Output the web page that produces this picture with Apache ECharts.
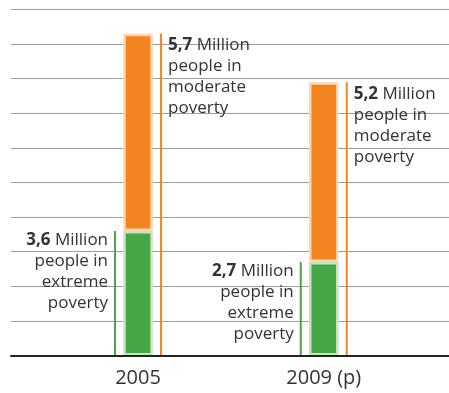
<!DOCTYPE html>
<html>
<head>
<meta charset="utf-8">
<script src="https://cdn.jsdelivr.net/npm/echarts@6/dist/echarts.min.js"></script>
<style>
  html, body { margin: 0; padding: 0; background: #ffffff; }
  #chart { width: 449px; height: 393px; }
</style>
</head>
<body>
<div id="chart"></div>
<script>
  // data (million people)
  const years = ['2005', '2009 (p)']
  const extreme = [3.6, 2.7]      // people in extreme poverty
  const moderate = [5.7, 5.2]     // people in moderate poverty
  const extremeText = ['Million', 'people in', 'extreme', 'poverty']
  const moderateText = ['Million', 'people in', 'moderate', 'poverty']
  const yTicks = {min: 0, max: 10, interval: 1}

  const GREEN = '#45a646'
  const ORANGE = '#f4841f'
  const FONT = '"Open Sans", sans-serif'
  const BAR_W = 29.5
  const OFFSET = 23   // distance from bar centre to the side line

  const fmt = v => v.toFixed(1).replace('.', ',')
  const totals = years.map((_, i) => +(extreme[i] + moderate[i]).toFixed(1))

  // side line + text next to each bar
  function sideRenderer(side, values, words, color) {
    return function (params, api) {
      const i = api.value(0)
      const base = api.coord([i, 0])
      const top = api.coord([i, api.value(1)])
      const x = base[0] + side * OFFSET
      const text = '{b|' + fmt(values[i]) + '} ' + words.join('\n')
      return {
        type: 'group',
        children: [
          {
            type: 'line',
            shape: {x1: x, y1: base[1], x2: x, y2: top[1]},
            style: {stroke: color, lineWidth: 2}
          },
          {
            type: 'text',
            x: x + side * 7,
            y: top[1] + (side > 0 ? 1 : -1),
            style: {
              text: text,
              align: side > 0 ? 'left' : 'right',
              verticalAlign: 'top',
              fill: '#333333',
              font: '17px ' + FONT,
              lineHeight: 21,
              rich: {
                b: {fontWeight: 'bold', fontSize: 17, fontFamily: FONT, lineHeight: 21, fill: '#333333'}
              }
            }
          }
        ]
      }
    }
  }

  const chart = echarts.init(document.getElementById('chart'))
  chart.setOption({
    animation: false,
    grid: [
      {left: 11, right: 0, top: 9.5, bottom: 37.5},          // gridlines + baseline
      {left: 45.2, width: 371.4, top: 9.5, bottom: 37.5}     // bars
    ],
    xAxis: [
      {
        gridIndex: 0, type: 'value', min: 0, max: 1, z: 5,
        axisLine: {show: true, lineStyle: {color: '#222222', width: 2}},
        axisTick: {show: false}, axisLabel: {show: false}, splitLine: {show: false}
      },
      {
        gridIndex: 1, type: 'category', data: years,
        axisLine: {show: false}, axisTick: {show: false},
        axisLabel: {color: '#333333', fontSize: 20, fontFamily: FONT, margin: 13}
      }
    ],
    yAxis: [
      {
        gridIndex: 0, type: 'value', min: yTicks.min, max: yTicks.max, interval: yTicks.interval,
        axisLine: {show: false}, axisTick: {show: false}, axisLabel: {show: false},
        splitLine: {show: true, lineStyle: {color: '#9c9c9c', width: 1}}
      },
      {
        gridIndex: 1, type: 'value', min: yTicks.min, max: yTicks.max, interval: yTicks.interval,
        show: false
      }
    ],
    series: [
      {
        type: 'bar', xAxisIndex: 1, yAxisIndex: 1, stack: 'poverty',
        barWidth: BAR_W, data: extreme,
        itemStyle: {color: GREEN, borderColor: '#c6e4c0', borderWidth: 2.5}
      },
      {
        type: 'bar', xAxisIndex: 1, yAxisIndex: 1, stack: 'poverty',
        barWidth: BAR_W, data: moderate,
        itemStyle: {color: ORANGE, borderColor: '#fdd6b0', borderWidth: 2.5}
      },
      {
        type: 'custom', xAxisIndex: 1, yAxisIndex: 1,
        renderItem: sideRenderer(-1, extreme, extremeText, GREEN),
        data: years.map((_, i) => [i, extreme[i]])
      },
      {
        type: 'custom', xAxisIndex: 1, yAxisIndex: 1,
        renderItem: sideRenderer(1, moderate, moderateText, ORANGE),
        data: years.map((_, i) => [i, totals[i]])
      }
    ]
  })
</script>
</body>
</html>
